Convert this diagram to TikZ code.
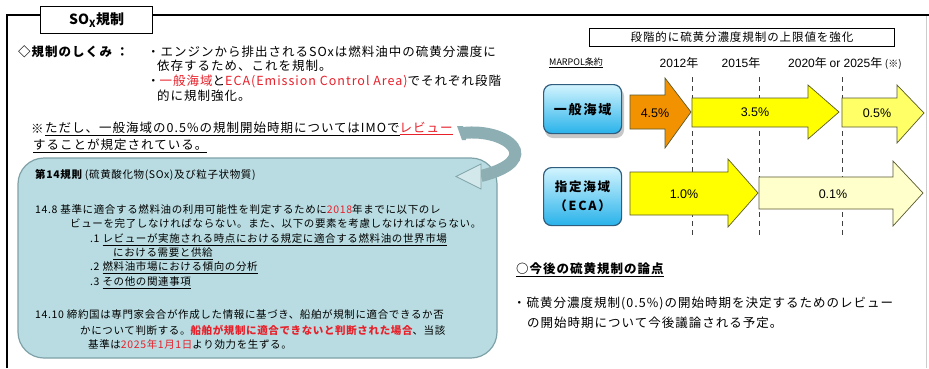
\documentclass[tikz,border=0pt]{standalone}
\usepackage{fontspec}
\setmainfont{Noto Sans CJK JP}
\newfontfamily\jpA[LetterSpace=8]{Noto Sans CJK JP}
\newfontfamily\jpB[LetterSpace=6]{Noto Sans CJK JP}
\newfontfamily\jpC[LetterSpace=14]{Noto Sans CJK JP}
\newfontfamily\lat{Liberation Sans}
\definecolor{redt}{HTML}{E8202A}
\definecolor{callfill}{HTML}{B8DCE1}
\definecolor{calldraw}{HTML}{7FA2A8}
\definecolor{curvec}{HTML}{8DAEB3}
\definecolor{headc}{HTML}{D3E8EB}
\definecolor{orangeA}{HTML}{F39200}
\definecolor{yellowA}{HTML}{FFFF00}
\definecolor{yellowB}{HTML}{FFFF66}
\definecolor{yellowC}{HTML}{FFFFCC}
\definecolor{arrowline}{HTML}{5A5A30}
\definecolor{boxline}{HTML}{2F5D7E}
\definecolor{boxtop}{HTML}{D2F4FE}
\definecolor{boxbot}{HTML}{28B2EA}
\newcommand\rd[1]{\textcolor{redt}{#1}}
\begin{document}
\begin{tikzpicture}[x=1pt,y=-1pt,
  txt/.style={anchor=west,inner sep=0pt},
  maintxt/.style={txt,font=\jpA\fontsize{12.5}{14}\selectfont},
  boxtxt/.style={txt,font=\jpB\fontsize{10.5}{12}\selectfont},
  pct/.style={inner sep=0pt,font=\lat\fontsize{12.5}{14}\selectfont},
  seabox/.style={draw=boxline,line width=1.2pt,rounded corners=8pt,top color=boxtop,bottom color=boxbot,minimum width=78,align=center,font=\jpC\bfseries\fontsize{13}{17}\selectfont},
  blockarrow/.style={draw=arrowline,line width=0.7pt,line join=miter},
  vdash/.style={black!75,line width=0.8pt,dash pattern=on 5pt off 4pt}]
\useasboundingbox (0,0) rectangle (929,368);
\fill[white] (0,0) rectangle (929,368);

% outer frame
\draw[black!20,line width=0.8pt] (926,15) -- (926,368);
\draw[line width=2.5pt] (7,368) -- (7,15) -- (929,15);
\node[draw,line width=1.3pt,fill=white,minimum width=112,minimum height=27,anchor=north west,inner sep=0pt,font=\bfseries\fontsize{14}{16}\selectfont] (title) at (40,6) {SO\textsubscript{X}規制};

% upper text
\node[maintxt,font=\jpA\bfseries\fontsize{12.5}{14}\selectfont] (lab) at (18,52) {◇規制のしくみ ：};
\node[maintxt] (l1) at (147,52) {・エンジンから排出されるSOxは燃料油中の硫黄分濃度に};
\node[maintxt] (l2) at (157,66) {依存するため、これを規制。};
\node[maintxt] (l3) at (147,81) {・\rd{一般海域}と\rd{ECA(Emission Control Area)}でそれぞれ段階};
\node[maintxt] (l4) at (157,96) {的に規制強化。};
\node[maintxt] (n0) at (31,129) {※};
\node[maintxt] (n1) at (45,129) {\underline{ただし、一般海域の0.5\%の規制開始時期についてはIMOで}\rd{\underline{レビュー}}};
\node[maintxt] (n2) at (33,146) {\underline{することが規定されている。}};

% callout box
\draw[calldraw,fill=callfill,line width=1.2pt,rounded corners=26pt] (18,158) rectangle (497,358);
% curved arrow
\coordinate (cs) at (463,133);
\coordinate (ce) at (481,176);
\draw[curvec,line width=12pt] (cs) .. controls (508,128) and (545,160) .. (ce);
\fill[curvec] (457,126) -- (462,140) -- (466,140) -- (463,126) -- cycle;
\draw[calldraw,fill=headc,line width=0.8pt] (481,164) -- (481,189) -- (456,176.5) -- cycle;

\node[boxtxt] (r0) at (35,175) {{\bfseries 第14規則} (硫黄酸化物(SOx)及び粒子状物質)};
\node[boxtxt] (r1) at (35,210) {14.8 基準に適合する燃料油の利用可能性を判定するために\rd{2018}年までに以下のレ};
\node[boxtxt] (r2) at (70,224) {ビューを完了しなければならない。また、以下の要素を考慮しなければならない。};
\node[boxtxt] (r3) at (90,240) {.1 \underline{レビューが実施される時点における規定に適合する燃料油の世界市場}};
\node[boxtxt] (r4) at (113,254) {\underline{における需要と供給}};
\node[boxtxt] (r5) at (90,268) {.2 \underline{燃料油市場における傾向の分析}};
\node[boxtxt] (r6) at (90,283) {.3 \underline{その他の関連事項}};
\node[boxtxt] (r7) at (35,315) {14.10 締約国は専門家会合が作成した情報に基づき、船舶が規制に適合できるか否};
\node[boxtxt] (r8) at (80,330) {かについて判断する。{\bfseries\rd{船舶が規制に適合できないと判断された場合}}、当該};
\node[boxtxt] (r9) at (88,344) {基準は\rd{2025年1月1日}より効力を生ずる。};

% right side header
\node[draw,line width=0.9pt,minimum width=305,minimum height=18,anchor=north west,inner sep=0pt,font=\jpA\fontsize{11.5}{13}\selectfont] (hdr) at (589,28) {段階的に硫黄分濃度規制の上限値を強化};
\node[txt,font=\fontsize{9}{11}\selectfont] (marpol) at (549,63) {\underline{MARPOL条約}};
\node[inner sep=0pt,font=\fontsize{12}{14}\selectfont] (y12) at (679,63) {{\lat 2012}年};
\node[inner sep=0pt,font=\fontsize{12}{14}\selectfont] (y15) at (741,63) {{\lat 2015}年};
\node[txt,font=\fontsize{12}{14}\selectfont] (y20) at (788,63) {{\lat 2020}年 {\lat or 2025}年 {\fontsize{10}{12}\selectfont (※)}};

% dashed lines
\coordinate (d1t) at (692,77); \coordinate (d1b) at (692,237);
\coordinate (d2t) at (759,77); \coordinate (d2b) at (759,237);
\coordinate (d3t) at (842,77); \coordinate (d3b) at (842,237);
\draw[vdash] (d1t) -- (d1b);
\draw[vdash] (d2t) -- (d2b);
\draw[vdash] (d3t) -- (d3b);

% sea boxes
\fill[black!22,rounded corners=8pt] (545,88) rectangle (624,138);
\node[seabox,minimum height=49,anchor=north west] (gen) at (543,84) {一般海域};
\node[seabox,minimum height=58,anchor=north west,font=\jpC\bfseries\fontsize{12.5}{19}\selectfont] (eca) at (543,167) {指定海域\\（ECA）};

% arrows row 1
\draw[blockarrow,fill=orangeA] (630,95) -- (665,95) -- (665,78) -- (691,112) -- (665,148) -- (665,129) -- (630,129) -- cycle;
\draw[blockarrow,fill=yellowA] (692,98) -- (808,98) -- (808,85) -- (839,112) -- (808,139) -- (808,127) -- (692,127) -- cycle;
\draw[blockarrow,fill=yellowB] (842,98) -- (897,98) -- (897,85) -- (924,113) -- (897,143) -- (897,127) -- (842,127) -- cycle;
% arrows row 2
\draw[blockarrow,fill=yellowA] (630,172) -- (728,172) -- (728,159) -- (758,193) -- (728,227) -- (728,215) -- (630,215) -- cycle;
\draw[blockarrow,fill=yellowC] (759,177) -- (893,177) -- (893,161) -- (923,193) -- (893,226) -- (893,209) -- (759,209) -- cycle;

\node[pct] (p45) at (655,113) {4.5\%};
\node[pct] (p35) at (755,112) {3.5\%};
\node[pct] (p05) at (877,113) {0.5\%};
\node[pct] (p10) at (684,194) {1.0\%};
\node[pct] (p01) at (833,194) {0.1\%};

% lower right text
\node[maintxt,font=\jpA\bfseries\fontsize{12.5}{14}\selectfont] (iss) at (516,270) {\underline{○今後の硫黄規制の論点}};
\node[maintxt] (is1) at (513,303) {・硫黄分濃度規制(0.5\%)の開始時期を決定するためのレビュー};
\node[maintxt] (is2) at (527,323) {の開始時期について今後議論される予定。};
\end{tikzpicture}
\end{document}
